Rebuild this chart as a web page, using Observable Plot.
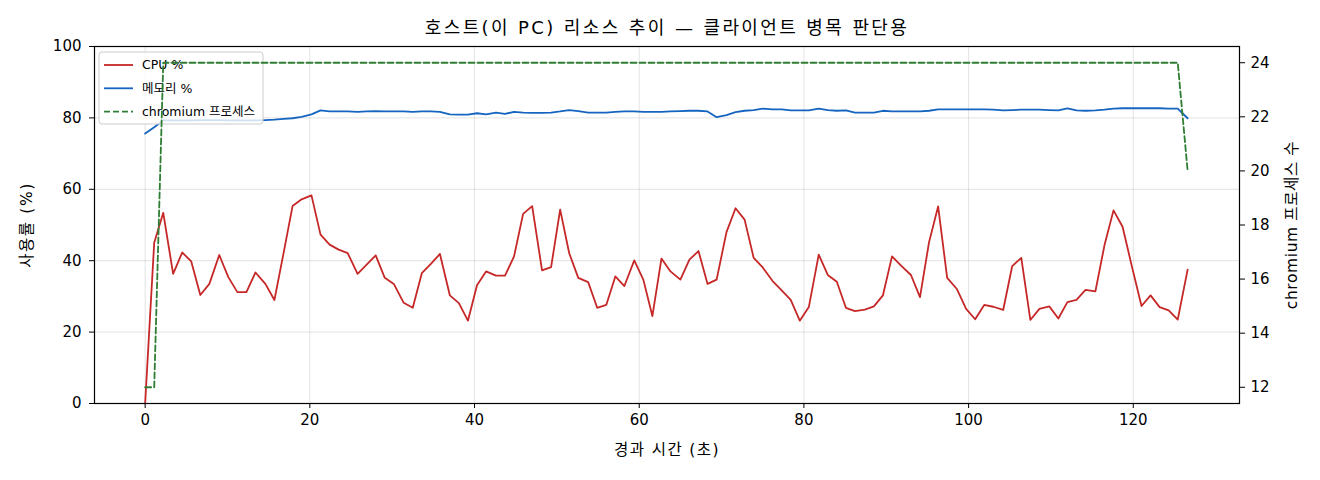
<!DOCTYPE html>
<html><head><meta charset="utf-8">
<script src="https://cdn.jsdelivr.net/npm/d3@7"></script>
<script src="https://cdn.jsdelivr.net/npm/@observablehq/plot@0.6"></script>
<style>
html,body{margin:0;padding:0;background:#fff;}
</style>
</head><body><div id="chart"></div>
<script>
const titleText = "호스트(이 PC) 리소스 추이 — 클라이언트 병목 판단용";
const xLabel = "경과 시간 (초)";
const yLabel = "사용률 (%)";
const y2Label = "chromium 프로세스 수";
const seriesNames = ["CPU %", "메모리 %", "chromium 프로세스"];
const seriesColors = ["#c62828", "#1565c0", "#2e7d32"];
const xTicks = [0, 20, 40, 60, 80, 100, 120];
const yTicks = [0, 20, 40, 60, 80, 100];
const procTicks = [12, 14, 16, 18, 20, 22, 24];
const procDomain = [11.4, 24.6];

const times = [0,1.1,2.2,3.4,4.5,5.6,6.7,7.8,9.0,10.1,
11.2,12.3,13.4,14.6,15.7,16.8,17.9,19.0,20.2,21.3,
22.4,23.5,24.6,25.8,26.9,28.0,29.1,30.2,31.4,32.5,
33.6,34.7,35.8,37.0,38.1,39.2,40.3,41.4,42.6,43.7,
44.8,45.9,47.0,48.2,49.3,50.4,51.5,52.6,53.8,54.9,
56.0,57.1,58.2,59.4,60.5,61.6,62.7,63.8,65.0,66.1,
67.2,68.3,69.4,70.6,71.7,72.8,73.9,75.0,76.2,77.3,
78.4,79.5,80.6,81.8,82.9,84.0,85.1,86.2,87.4,88.5,
89.6,90.7,91.8,93.0,94.1,95.2,96.3,97.4,98.6,99.7,
100.8,101.9,103.0,104.2,105.3,106.4,107.5,108.6,109.8,110.9,
112.0,113.1,114.2,115.4,116.5,117.6,118.7,119.8,121.0,122.1,
123.2,124.3,125.4,126.6];

const cpu = [0,45.0,53.4,36.3,42.3,39.8,30.4,33.5,41.6,35.4,
31.2,31.2,36.7,33.5,29.0,42.0,55.3,57.2,58.3,47.3,
44.5,43.1,42.1,36.3,38.9,41.5,35.2,33.5,28.2,26.8,
36.5,39.1,41.9,30.3,28.1,23.2,33.1,37.0,35.8,35.8,
41.2,53.1,55.3,37.3,38.2,54.3,42.1,35.2,34.0,26.8,
27.6,35.6,32.9,40.1,34.7,24.5,40.6,37.0,34.7,40.3,
42.7,33.5,34.7,48.0,54.7,51.5,40.8,38.1,34.3,31.7,
29.0,23.2,27.0,41.7,36.0,34.1,26.8,25.9,26.3,27.2,
30.3,41.2,38.6,36.0,29.8,45.2,55.2,35.2,32.0,26.5,
23.6,27.6,27.1,26.2,38.5,40.8,23.4,26.5,27.2,23.8,
28.4,29.0,31.8,31.4,44.3,54.1,49.5,38.7,27.3,30.3,
27.0,26.1,23.5,37.5];

const mem = [75.6,77.4,79.3,79.3,79.3,79.3,79.4,79.4,79.4,79.3,
79.3,79.3,79.3,79.4,79.5,79.7,79.9,80.3,81.0,82.1,
81.8,81.8,81.8,81.7,81.8,81.9,81.8,81.8,81.8,81.7,
81.8,81.8,81.7,81.0,80.9,80.9,81.3,81.0,81.5,81.1,
81.7,81.5,81.4,81.4,81.5,81.8,82.2,81.9,81.5,81.5,
81.5,81.7,81.8,81.8,81.7,81.7,81.7,81.8,81.9,82.0,
82.0,81.8,80.2,80.8,81.6,82.0,82.2,82.6,82.4,82.4,
82.1,82.1,82.1,82.6,82.2,82.0,82.1,81.5,81.5,81.5,
82.0,81.8,81.8,81.8,81.8,82.0,82.4,82.4,82.4,82.4,
82.4,82.4,82.3,82.1,82.2,82.3,82.3,82.3,82.2,82.1,
82.7,82.1,82.0,82.1,82.3,82.6,82.7,82.7,82.7,82.7,
82.7,82.6,82.6,79.9];

const procs = [12,12,
24,24,24,24,24,24,24,24,24,24,
24,24,24,24,24,24,24,24,24,24,
24,24,24,24,24,24,24,24,24,24,
24,24,24,24,24,24,24,24,24,24,
24,24,24,24,24,24,24,24,24,24,
24,24,24,24,24,24,24,24,24,24,
24,24,24,24,24,24,24,24,24,24,
24,24,24,24,24,24,24,24,24,24,
24,24,24,24,24,24,24,24,24,24,
24,24,24,24,24,24,24,24,24,24,
24,24,24,24,24,24,24,24,24,24,
24,
20];

const FONT = '"DejaVu Sans","Noto Sans CJK KR",sans-serif';
// map process count (right axis) into the left 0–100 scale space
const toLeft = p => (p - procDomain[0]) / (procDomain[1] - procDomain[0]) * 100;
const fromLeft = v => procDomain[0] + v / 100 * (procDomain[1] - procDomain[0]);

const data = times.map((t, i) => ({t, cpu: cpu[i], mem: mem[i], proc: procs[i]}));

const gridStyle = {stroke: "#b0b0b0", strokeOpacity: 0.35, strokeWidth: 1};

const chart = Plot.plot({
  width: 1320, height: 480,
  marginLeft: 94, marginRight: 81, marginTop: 46, marginBottom: 77,
  style: {fontFamily: FONT, fontSize: "15px", color: "#000", background: "#fff", overflow: "visible"},
  x: {domain: [-6.15, 132.9]},
  y: {domain: [0, 100]},
  marks: [
    Plot.gridX(xTicks, gridStyle),
    Plot.gridY(yTicks, gridStyle),
    Plot.line(data, {x: "t", y: "cpu", stroke: seriesColors[0], strokeWidth: 1.8}),
    Plot.line(data, {x: "t", y: "mem", stroke: seriesColors[1], strokeWidth: 1.8}),
    Plot.line(data, {x: "t", y: d => toLeft(d.proc), stroke: seriesColors[2], strokeWidth: 1.8, strokeDasharray: "6,3"}),
    Plot.frame({stroke: "#000", strokeWidth: 1.2}),
    Plot.axisX(xTicks, {tickSize: 5, tickPadding: 6, fontSize: 15, label: null}),
    Plot.axisY(yTicks, {anchor: "left", tickSize: 5, tickPadding: 8, fontSize: 15, label: null}),
    Plot.axisY(procTicks.map(toLeft), {anchor: "right", tickSize: 5, tickPadding: 6, fontSize: 15, label: null,
      tickFormat: v => String(Math.round(fromLeft(v)))}),
    Plot.text([titleText], {frameAnchor: "top", dy: -18, lineAnchor: "middle", textAnchor: "middle", text: d => d, fontSize: 18, fill: "#000"}),
    Plot.text([xLabel], {frameAnchor: "bottom", dy: 47, lineAnchor: "middle", textAnchor: "middle", text: d => d, fontSize: 15.5, fill: "#000"}),
    Plot.text([yLabel], {frameAnchor: "left", dx: -67, rotate: -90, lineAnchor: "middle", textAnchor: "middle", text: d => d, fontSize: 15.5, fill: "#000"}),
    Plot.text([y2Label], {frameAnchor: "right", dx: 53, rotate: -90, lineAnchor: "middle", textAnchor: "middle", text: d => d, fontSize: 15.5, fill: "#000"})
  ]
});

document.getElementById("chart").appendChild(chart);

// letter spacing for the Korean labels (reference font is wider-set)
const texts = chart.querySelectorAll('g[aria-label="text"] text');
texts.forEach(t => {
  const s = t.textContent;
  if (s === titleText) t.setAttribute("letter-spacing", "2.4");
  else if (s === xLabel) t.setAttribute("letter-spacing", "1.4");
  else if (s === yLabel) t.setAttribute("letter-spacing", "1.6");
  else if (s === y2Label) t.setAttribute("letter-spacing", "0.6");
});

// Legend (upper-left, drawn below the process line like a twin-axis overlay)
const greenG = chart.querySelector(`g[stroke="${seriesColors[2]}"]`);
const lg = document.createElementNS("http://www.w3.org/2000/svg", "g");
chart.insertBefore(lg, greenG);
const leg = d3.select(lg).attr("font-family", FONT).attr("text-anchor", "start");
const lx = 99, ly = 52;
leg.append("rect").attr("x", lx).attr("y", ly).attr("width", 164).attr("height", 72)
  .attr("rx", 3).attr("fill", "#fff").attr("fill-opacity", 0.8).attr("stroke", "#cccccc").attr("stroke-width", 1);
seriesNames.forEach((name, i) => {
  const yy = ly + 13 + i * 23.3;
  leg.append("line").attr("x1", lx + 5).attr("x2", lx + 34).attr("y1", yy).attr("y2", yy)
    .attr("stroke", seriesColors[i]).attr("stroke-width", 1.8)
    .attr("stroke-dasharray", i === 2 ? "6,3" : null);
  leg.append("text").attr("x", lx + 43).attr("y", yy).attr("dy", "0.35em")
    .attr("text-anchor", "start").attr("font-size", 12.5).attr("fill", "#000").text(name);
});
</script>
</body></html>
